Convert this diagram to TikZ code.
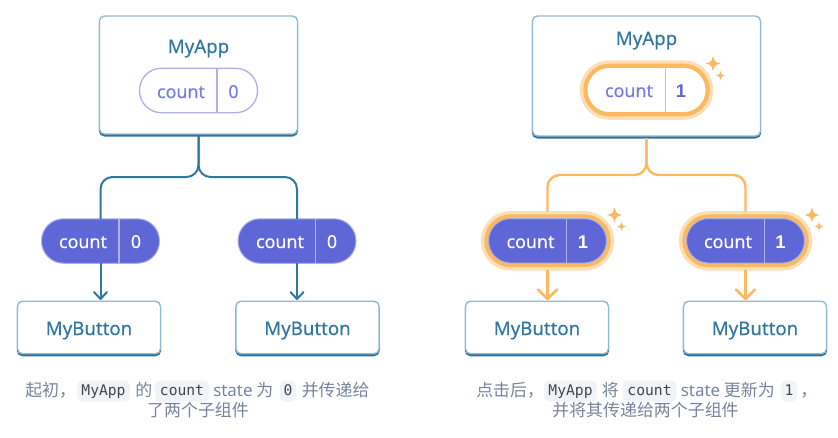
\documentclass[tikz,border=0pt]{standalone}
\usepackage{fontspec}
\setmainfont{Noto Sans}
\newfontfamily\plainf{Noto Sans}
\newfontfamily\medf{Noto Sans}[FakeBold=0.25]
\newfontfamily\boldf{Liberation Sans}
\newfontfamily\cjkf{Noto Sans CJK SC}
\newfontfamily\monof{DejaVu Sans Mono}
\definecolor{boxdark}{HTML}{2F7099}
\definecolor{boxlight}{HTML}{93B9CF}
\definecolor{wire}{HTML}{2E7A9E}
\definecolor{labelc}{HTML}{33779F}
\definecolor{purple}{HTML}{5F67D6}
\definecolor{purplelt}{HTML}{AEB1E8}
\definecolor{purpletx}{HTML}{767CE0}
\definecolor{orangec}{HTML}{FDB95F}
\definecolor{glowc}{HTML}{FDDFB5}
\definecolor{capc}{HTML}{78839D}
\definecolor{codebg}{HTML}{F2F3F6}
\definecolor{codetx}{HTML}{404756}
\def\px{0.75pt}
\tikzset{
  x=0.75pt,y=-0.75pt,
  compbox/.style={draw=boxlight,fill=white,line width=1.4*\px,rounded corners=5*\px,outer sep=0pt,inner sep=0pt,
     preaction={draw=boxdark,fill=boxdark,line width=1.4*\px,transform canvas={yshift=-1.8*\px}}},
  complabel/.style={text=labelc,font=\medf\fontsize{14pt}{16pt}\selectfont,anchor=base,inner sep=0pt},
  pillshape/.style={minimum width=118*\px,minimum height=44.5*\px,rounded corners=22*\px,inner sep=0pt,outer sep=0pt},
  pillempty/.style={pillshape,draw=purplelt,fill=white,line width=1.3*\px},
  pillfull/.style={pillshape,draw=purplelt,fill=purple,line width=1*\px},
  pillhot/.style={minimum width=122.3*\px,minimum height=48.5*\px,rounded corners=24*\px,inner sep=0pt,outer sep=5*\px,
     draw=orangec,fill=white,line width=4.2*\px,preaction={draw=glowc,line width=11*\px}},
  pillhotfull/.style={pillshape,fill=purple,draw=purplelt,line width=1*\px},
  sep/.style={line width=1.5*\px},
  pilltext/.style={font=\medf\fontsize{13.4pt}{15pt}\selectfont,anchor=base,inner sep=0pt},
  boldtext/.style={font=\boldf\bfseries\fontsize{13.8pt}{15pt}\selectfont},
  wireblue/.style={draw=wire,line width=2*\px,rounded corners=12*\px},
  wireor/.style={draw=orangec,line width=2.4*\px,rounded corners=12*\px},
  arrowblue/.style={draw=wire,line width=2*\px},
  arrowor/.style={draw=orangec,line width=2.4*\px},
  headblue/.style={draw=wire,line width=2*\px,line cap=round,line join=round},
  heador/.style={draw=orangec,line width=2.6*\px,line cap=round,line join=round},
  captext/.style={text=capc,font=\cjkf\fontsize{12.7pt}{15pt}\selectfont,anchor=base west,inner sep=0pt},
  capmid/.style={text=capc,font=\cjkf\fontsize{12.7pt}{15pt}\selectfont,anchor=base,inner sep=0pt},
  codechip/.style={fill=codebg,text=codetx,rounded corners=5*\px,font=\monof\fontsize{11pt}{13pt}\selectfont,
     inner sep=0pt,minimum height=21*\px,text height=8.6pt,text depth=2.4pt,anchor=center},
}
\newcommand{\sparkle}[3]{\fill[orangec] (#1,#2-#3) .. controls (#1+.22*#3,#2-.22*#3) .. (#1+#3,#2) .. controls (#1+.22*#3,#2+.22*#3) .. (#1,#2+#3) .. controls (#1-.22*#3,#2+.22*#3) .. (#1-#3,#2) .. controls (#1-.22*#3,#2-.22*#3) .. cycle;}
\begin{document}
\begin{tikzpicture}
\useasboundingbox (0,0) rectangle (838,437);
% ---------- left ----------
\node[compbox,minimum width=198*\px,minimum height=118*\px] (appL) at (198.5,75) {};
\node[complabel] (appLt) at (198.5,53) {MyApp};
\node[pillempty] (pL) at (198.5,90.5) {};
\draw[sep,draw=purplelt] (217,68) -- (217,113);
\node[pilltext,text=purpletx] (pLc) at (181,98) {count};
\node[pilltext,text=purpletx] (pLv) at (233.5,98) {0};

\node[pillfull] (c1) at (100.5,241) {};
\node[pillfull] (c2) at (297,241) {};
\draw[sep,draw=purplelt] (119,219) -- (119,263);
\draw[sep,draw=purplelt] (315.5,219) -- (315.5,263);
\node[pilltext,text=white] (c1t) at (83,248) {count};
\node[pilltext,text=white] (c1v) at (136,248) {0};
\node[pilltext,text=white] (c2t) at (280,248) {count};
\node[pilltext,text=white] (c2v) at (332,248) {0};

\node[compbox,minimum width=143*\px,minimum height=52.5*\px] (b1) at (89,327.5) {};
\node[compbox,minimum width=143*\px,minimum height=52.5*\px] (b2) at (307.5,327.5) {};
\node[complabel] (b1t) at (89,335) {MyButton};
\node[complabel] (b2t) at (307.5,335) {MyButton};

\coordinate (busL) at (0,177);
\draw[wireblue] (appL.south) ++(0,2) -- (appL.south |- busL) -- (c1.north |- busL) -- (c1.north);
\draw[wireblue] (appL.south) ++(0,2) -- (appL.south |- busL) -- (c2.north |- busL) -- (c2.north);
\coordinate (t1) at ([yshift=2.2*\px]c1.south |- b1.north);
\coordinate (t2) at ([yshift=2.2*\px]c2.south |- b2.north);
\draw[arrowblue] (c1.south) -- (t1);
\draw[arrowblue] (c2.south) -- (t2);
\draw[headblue] ([shift={(-6.5,-7)}]t1) -- (t1) -- ([shift={(6.5,-7)}]t1);
\draw[headblue] ([shift={(-6.5,-7)}]t2) -- (t2) -- ([shift={(6.5,-7)}]t2);

% ---------- right ----------
\node[compbox,minimum width=228*\px,minimum height=120*\px] (appR) at (646.5,76) {};
\node[complabel] (appRt) at (646.5,45) {MyApp};
\node[pillhot] (pR) at (646.5,90) {};
\draw[sep,draw=orangec] (665.5,67) -- (665.5,113);
\node[pilltext,text=purpletx] (pRc) at (629,97) {count};
\node[pilltext,boldtext,text=purple] (pRv) at (681,97) {1};
\sparkle{713}{63.5}{7.5}
\sparkle{720.5}{75.5}{4.5}

\node[pillhot] (d1h) at (547.5,240.8) {};
\node[pillhotfull] (d1) at (547.5,240.8) {};
\node[pillhot] (d2h) at (745.5,240.8) {};
\node[pillhotfull] (d2) at (745.5,240.8) {};
\draw[sep,draw=purplelt] (566.5,218) -- (566.5,263);
\draw[sep,draw=purplelt] (764.5,218) -- (764.5,263);
\node[pilltext,text=white] (d1t) at (530.5,248) {count};
\node[pilltext,boldtext,text=white] (d1v) at (583,248) {1};
\node[pilltext,text=white] (d2t) at (728,248) {count};
\node[pilltext,boldtext,text=white] (d2v) at (780.5,248) {1};
\sparkle{614.5}{215}{7.5}
\sparkle{621.5}{226.5}{4.5}
\sparkle{812}{215}{7.5}
\sparkle{819}{226.5}{4.5}

\node[compbox,minimum width=143*\px,minimum height=52.5*\px] (e1) at (537,327.5) {};
\node[compbox,minimum width=143*\px,minimum height=52.5*\px] (e2) at (755,327.5) {};
\node[complabel] (e1t) at (537,335) {MyButton};
\node[complabel] (e2t) at (755,335) {MyButton};

\coordinate (busR) at (0,175);
\draw[wireor] (appR.south) ++(0,2) -- (appR.south |- busR) -- (d1h.north |- busR) -- (d1h.north);
\draw[wireor] (appR.south) ++(0,2) -- (appR.south |- busR) -- (d2h.north |- busR) -- (d2h.north);
\coordinate (t3) at ([yshift=2.2*\px]d1h.south |- e1.north);
\coordinate (t4) at ([yshift=2.2*\px]d2h.south |- e2.north);
\draw[arrowor] (d1h.south) -- (t3);
\draw[arrowor] (d2h.south) -- (t4);
\draw[heador] ([shift={(-9.5,-9.5)}]t3) -- (t3) -- ([shift={(9.5,-9.5)}]t3);
\draw[heador] ([shift={(-9.5,-9.5)}]t4) -- (t4) -- ([shift={(9.5,-9.5)}]t4);

% ---------- captions ----------
\node[captext] (l1) at (25,396) {起初，};
\node[codechip,minimum width=53*\px] (l2) at (103.5,391) {MyApp};
\node[captext] (l3) at (135,396) {的};
\node[codechip,minimum width=54*\px] (l4) at (182,391) {count};
\node[captext] (l5) at (213,396) {{\plainf state} 为};
\node[codechip,minimum width=16*\px] (l6) at (288,391) {0};
\node[captext] (l7) at (301.5,396) {并传递给};
\node[capmid] (l8) at (198,416) {了两个子组件};

\node[captext] (r1) at (476,396) {点击后，};
\node[codechip,minimum width=53*\px] (r2) at (570.5,391) {MyApp};
\node[captext] (r3) at (601.5,396) {将};
\node[codechip,minimum width=54*\px] (r4) at (649.5,391) {count};
\node[captext] (r5) at (680.5,396) {{\plainf state} 更新为};
\node[codechip,minimum width=16*\px] (r6) at (789,391) {1};
\node[captext] (r7) at (800,396) {，};
\node[capmid] (r8) at (645.5,416) {并将其传递给两个子组件};
\end{tikzpicture}
\end{document}
